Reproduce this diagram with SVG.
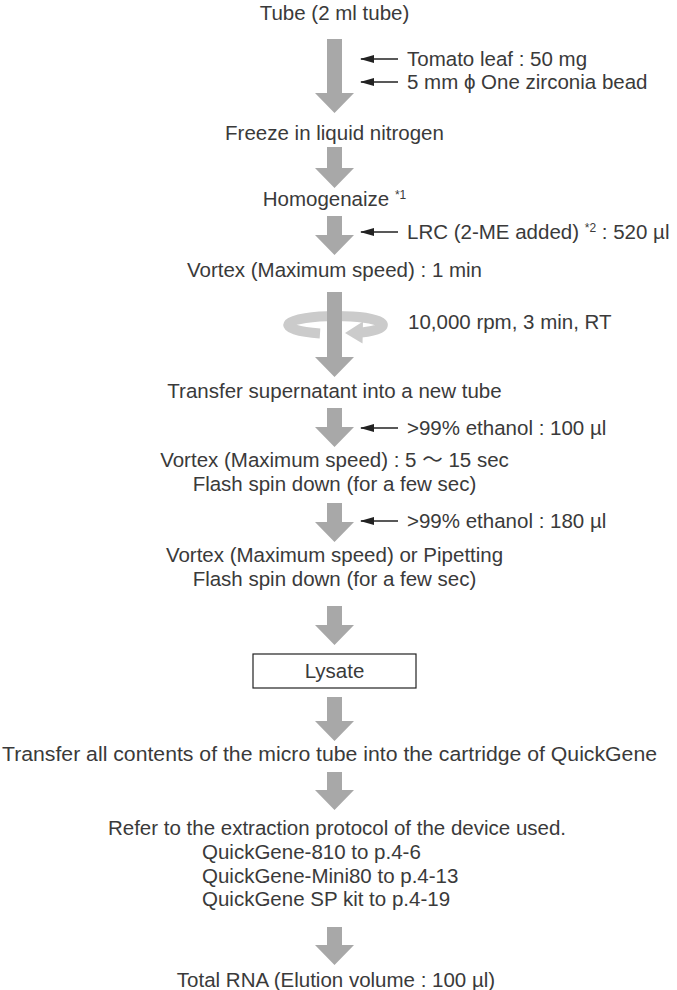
<svg xmlns="http://www.w3.org/2000/svg" width="677" height="990" viewBox="0 0 677 990">
<style>
.t{font-family:"Liberation Sans","Noto Sans CJK JP",sans-serif;font-size:20.5px;fill:#3a3a3a;}
.c{text-anchor:middle;}
.sup{font-size:12px;}
.flow{fill:#a8a8a8;}
.ring{fill:none;stroke:#cbcbcb;stroke-width:10;}
.add{stroke:#222;stroke-width:1.5;fill:none;marker-end:url(#ah);}
.box{fill:#fff;stroke:#222;stroke-width:1.2;}
</style>
<defs>
<marker id="ah" markerUnits="userSpaceOnUse" markerWidth="14" markerHeight="8" refX="13" refY="4" orient="auto">
<path d="M0,0 L14,4 L0,8 Z" fill="#222"/>
</marker>
</defs>
<rect width="677" height="990" fill="#fff"/>

<g id="connectors">
<path class="flow" d="M327 39H342V93H354L334.5 113L315 93H327Z"/>
<path class="flow" d="M327 147H342V168H354L334.5 188L315 168H327Z"/>
<path class="flow" d="M327 216H342V235H354L334.5 255L315 235H327Z"/>
<path class="ring" d="M336 316A47 9 0 0 0 320 333.5"/>
<path class="ring" d="M336 316A47 9 0 0 1 361 332.6"/>
<path fill="#cbcbcb" d="M345 333L363 321.5L362.5 343.5Z"/>
<path class="flow" d="M327 292H342V357H354L334.5 377L315 357H327Z"/>
<path class="flow" d="M327 408H342V427H354L334.5 447L315 427H327Z"/>
<path class="flow" d="M327 503H342V522H354L334.5 542L315 522H327Z"/>
<path class="flow" d="M327 606H342V625H354L334.5 645L315 625H327Z"/>
<path class="flow" d="M327 697H342V721H354L334.5 741L315 721H327Z"/>
<path class="flow" d="M327 772H342V790H354L334.5 810L315 790H327Z"/>
<path class="flow" d="M327 927H342V945H354L334.5 965L315 945H327Z"/>
<line class="add" x1="398" y1="59" x2="361" y2="59"/>
<line class="add" x1="398" y1="82" x2="361" y2="82"/>
<line class="add" x1="398" y1="232" x2="361" y2="232"/>
<line class="add" x1="398" y1="428" x2="361" y2="428"/>
<line class="add" x1="398" y1="521" x2="361" y2="521"/>
</g>

<g id="n1"><text class="t c" x="334.5" y="20">Tube (2 ml tube)</text></g>
<g id="a1"><text class="t" x="407" y="66">Tomato leaf : 50 mg</text></g>
<g id="a2"><text class="t" x="407" y="89">5 mm ϕ  One zirconia bead</text></g>
<g id="n2"><text class="t c" x="334.5" y="140">Freeze in liquid nitrogen</text></g>
<g id="n3"><text class="t c" x="334.5" y="206">Homogenaize <tspan class="sup" dy="-7">*1</tspan></text></g>
<g id="a3"><text class="t" x="407" y="239">LRC (2-ME added) <tspan class="sup" dy="-7">*2</tspan><tspan dy="7"> : 520 µl</tspan></text></g>
<g id="n4"><text class="t c" x="334.5" y="277">Vortex (Maximum speed) : 1 min</text></g>
<g id="a4"><text class="t" x="408" y="329">10,000 rpm, 3 min, RT</text></g>
<g id="n5"><text class="t c" x="334.5" y="398">Transfer supernatant into a new tube</text></g>
<g id="a5"><text class="t" x="407" y="435">&gt;99% ethanol : 100 µl</text></g>
<g id="n6"><text class="t c" x="334.5" y="467">Vortex (Maximum speed) : 5 ～ 15 sec</text>
<text class="t c" x="334.5" y="491">Flash spin down (for a few sec)</text></g>
<g id="a6"><text class="t" x="407" y="528">&gt;99% ethanol : 180 µl</text></g>
<g id="n7"><text class="t c" x="334.5" y="562">Vortex (Maximum speed) or Pipetting</text>
<text class="t c" x="334.5" y="586">Flash spin down (for a few sec)</text></g>
<g id="n8"><rect class="box" x="253" y="654" width="163" height="34"/>
<text class="t c" x="334.5" y="678">Lysate</text></g>
<g id="n9"><text class="t c" x="329.5" y="761" textLength="655" lengthAdjust="spacingAndGlyphs">Transfer all contents of the micro tube into the cartridge of QuickGene</text></g>
<g id="n10"><text class="t c" x="337" y="835">Refer to the extraction protocol of the device used.</text>
<text class="t" x="202" y="859">QuickGene-810 to p.4-6</text>
<text class="t" x="202" y="883">QuickGene-Mini80 to p.4-13</text>
<text class="t" x="202" y="906">QuickGene SP kit to p.4-19</text></g>
<g id="n11"><text class="t c" x="336" y="987">Total RNA (Elution volume : 100 µl)</text></g>
</svg>
